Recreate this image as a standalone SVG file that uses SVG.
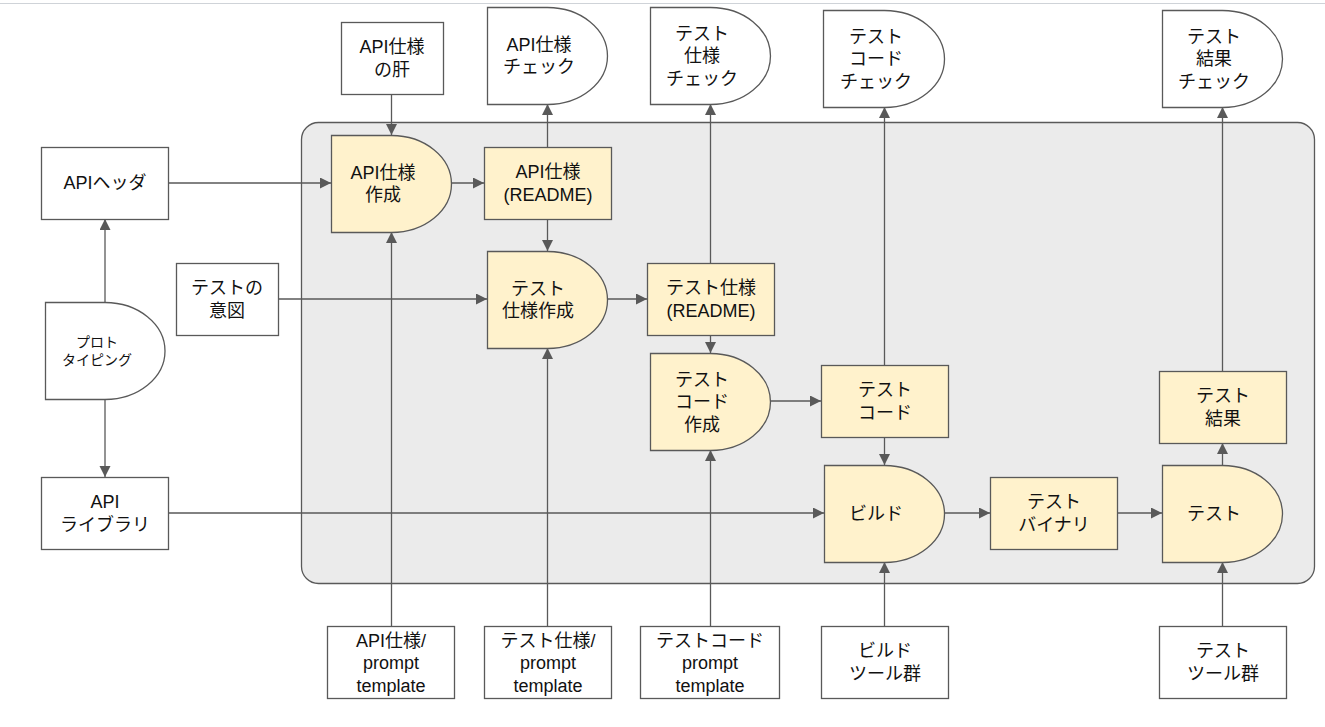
<svg xmlns="http://www.w3.org/2000/svg" width="1325" height="727" viewBox="0 0 1325 727">
<style>
.n{fill:#ffffff;stroke:#595959;stroke-width:1.3}
.y{fill:#fff2cc;stroke:#595959;stroke-width:1.3}
.c{fill:none;stroke:#595959;stroke-width:1.3;marker-end:url(#ah)}
text{font-family:"Liberation Sans","Noto Sans CJK JP",sans-serif;font-size:18px;fill:#111;text-anchor:middle}
.s{font-size:14px}
</style>
<defs>
<marker id="ah" markerUnits="userSpaceOnUse" markerWidth="12" markerHeight="12" refX="11" refY="5.5" orient="auto">
<path d="M0,0 L11,5.5 L0,11 z" fill="#595959"/>
</marker>
</defs>
<rect x="0" y="0" width="1325" height="727" fill="#ffffff"/>
<line x1="0" y1="3.5" x2="1325" y2="3.5" stroke="#cfd3d8" stroke-width="1"/>
<rect id="container" x="301.5" y="122.5" width="1013" height="461" rx="17" ry="17" fill="#ebebeb" stroke="#595959" stroke-width="1.3"/>

<g id="connectors">
<line class="c" x1="391.5" y1="94" x2="391.5" y2="135"/>
<line class="c" x1="168" y1="183" x2="331" y2="183"/>
<line class="c" x1="105" y1="302" x2="105" y2="219"/>
<line class="c" x1="105" y1="399" x2="105" y2="477"/>
<line class="c" x1="278" y1="299" x2="487" y2="299"/>
<line class="c" x1="168" y1="513" x2="824" y2="513"/>
<line class="c" x1="451" y1="183" x2="484" y2="183"/>
<line class="c" x1="547.5" y1="147" x2="547.5" y2="104"/>
<line class="c" x1="547.5" y1="219" x2="547.5" y2="251"/>
<line class="c" x1="607" y1="299" x2="647" y2="299"/>
<line class="c" x1="710.5" y1="263" x2="710.5" y2="104"/>
<line class="c" x1="710.5" y1="335" x2="710.5" y2="353"/>
<line class="c" x1="770" y1="401" x2="821" y2="401"/>
<line class="c" x1="884.5" y1="365" x2="884.5" y2="107"/>
<line class="c" x1="884.5" y1="437" x2="884.5" y2="465"/>
<line class="c" x1="944" y1="513" x2="990" y2="513"/>
<line class="c" x1="1117" y1="513" x2="1162" y2="513"/>
<line class="c" x1="1222.5" y1="465" x2="1222.5" y2="443"/>
<line class="c" x1="1222.5" y1="371" x2="1222.5" y2="107"/>
<line class="c" x1="391.5" y1="626" x2="391.5" y2="232"/>
<line class="c" x1="547.5" y1="626" x2="547.5" y2="348"/>
<line class="c" x1="710.5" y1="626" x2="710.5" y2="450"/>
<line class="c" x1="884.5" y1="626" x2="884.5" y2="562"/>
<line class="c" x1="1222.5" y1="626" x2="1222.5" y2="562"/>
</g>

<g id="api-kimo">
<rect class="n" x="341.5" y="22.5" width="102" height="72"/>
<text x="392" y="53">API仕様</text>
<text x="392" y="75.5">の肝</text>
</g>
<g id="api-header">
<rect class="n" x="41.5" y="147.5" width="127" height="72"/>
<text x="105" y="189">APIヘッダ</text>
</g>
<g id="prototyping">
<path class="n" d="M45.5,302.5 H105 A60 48.5 0 0 1 105,399.5 H45.5 Z"/>
<text class="s" x="97" y="347">プロト</text>
<text class="s" x="97" y="365">タイピング</text>
</g>
<g id="test-intent">
<rect class="n" x="176.5" y="263.5" width="102" height="72"/>
<text x="227" y="294">テストの</text>
<text x="227" y="316.5">意図</text>
</g>
<g id="api-library">
<rect class="n" x="41.5" y="477.5" width="127" height="72"/>
<text x="105" y="508">API</text>
<text x="105" y="530.5">ライブラリ</text>
</g>
<g id="api-spec-check">
<path class="n" d="M487.5,7.5 H547.5 A60 48.5 0 0 1 547.5,104.5 H487.5 Z"/>
<text x="539" y="50.5">API仕様</text>
<text x="539" y="73">チェック</text>
</g>
<g id="test-spec-check">
<path class="n" d="M650.5,7.5 H710.5 A60 48.5 0 0 1 710.5,104.5 H650.5 Z"/>
<text x="702" y="39.5">テスト</text>
<text x="702" y="62">仕様</text>
<text x="702" y="84.5">チェック</text>
</g>
<g id="test-code-check">
<path class="n" d="M823.5,10.5 H884.5 A60 48.5 0 0 1 884.5,107.5 H823.5 Z"/>
<text x="876" y="42.5">テスト</text>
<text x="876" y="65">コード</text>
<text x="876" y="87.5">チェック</text>
</g>
<g id="test-result-check">
<path class="n" d="M1162.5,10.5 H1222.5 A60 48.5 0 0 1 1222.5,107.5 H1162.5 Z"/>
<text x="1214" y="42.5">テスト</text>
<text x="1214" y="65">結果</text>
<text x="1214" y="87.5">チェック</text>
</g>
<g id="api-spec-create">
<path class="y" d="M331.5,135.5 H391.5 A60 48.5 0 0 1 391.5,232.5 H331.5 Z"/>
<text x="383" y="178.5">API仕様</text>
<text x="383" y="201">作成</text>
</g>
<g id="api-spec-readme">
<rect class="y" x="484.5" y="147.5" width="127" height="72"/>
<text x="548" y="178">API仕様</text>
<text x="548" y="200.5">(README)</text>
</g>
<g id="test-spec-create">
<path class="y" d="M487.5,251.5 H547.5 A60 48.5 0 0 1 547.5,348.5 H487.5 Z"/>
<text x="538" y="294.5">テスト</text>
<text x="538" y="317">仕様作成</text>
</g>
<g id="test-spec-readme">
<rect class="y" x="647.5" y="263.5" width="127" height="72"/>
<text x="711" y="294">テスト仕様</text>
<text x="711" y="316.5">(README)</text>
</g>
<g id="test-code-create">
<path class="y" d="M650.5,353.5 H710.5 A60 48.5 0 0 1 710.5,450.5 H650.5 Z"/>
<text x="702" y="385.5">テスト</text>
<text x="702" y="408">コード</text>
<text x="702" y="430.5">作成</text>
</g>
<g id="test-code">
<rect class="y" x="821.5" y="365.5" width="127" height="72"/>
<text x="885" y="396">テスト</text>
<text x="885" y="418.5">コード</text>
</g>
<g id="build">
<path class="y" d="M824.5,465.5 H884.5 A60 48.5 0 0 1 884.5,562.5 H824.5 Z"/>
<text x="876" y="520">ビルド</text>
</g>
<g id="test-binary">
<rect class="y" x="990.5" y="477.5" width="127" height="72"/>
<text x="1054" y="508">テスト</text>
<text x="1054" y="530.5">バイナリ</text>
</g>
<g id="test-result">
<rect class="y" x="1159.5" y="371.5" width="127" height="72"/>
<text x="1223" y="402">テスト</text>
<text x="1223" y="424.5">結果</text>
</g>
<g id="test-run">
<path class="y" d="M1162.5,465.5 H1222.5 A60 48.5 0 0 1 1222.5,562.5 H1162.5 Z"/>
<text x="1214" y="520">テスト</text>
</g>
<g id="api-spec-prompt">
<rect class="n" x="327.5" y="626.5" width="127" height="72"/>
<text x="391" y="646.5">API仕様/</text>
<text x="391" y="669">prompt</text>
<text x="391" y="691.5">template</text>
</g>
<g id="test-spec-prompt">
<rect class="n" x="484.5" y="626.5" width="127" height="72"/>
<text x="548" y="646.5">テスト仕様/</text>
<text x="548" y="669">prompt</text>
<text x="548" y="691.5">template</text>
</g>
<g id="test-code-prompt">
<rect class="n" x="640.5" y="626.5" width="139" height="72"/>
<text x="710" y="646.5">テストコード</text>
<text x="710" y="669">prompt</text>
<text x="710" y="691.5">template</text>
</g>
<g id="build-tools">
<rect class="n" x="821.5" y="626.5" width="127" height="72"/>
<text x="885" y="657">ビルド</text>
<text x="885" y="679.5">ツール群</text>
</g>
<g id="test-tools">
<rect class="n" x="1159.5" y="626.5" width="127" height="72"/>
<text x="1223" y="657">テスト</text>
<text x="1223" y="679.5">ツール群</text>
</g>
</svg>
